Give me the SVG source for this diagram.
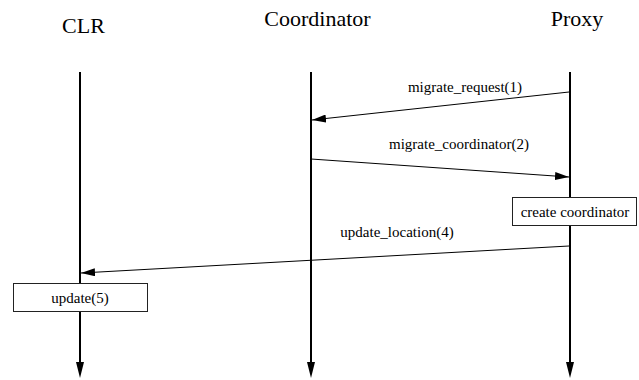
<svg xmlns="http://www.w3.org/2000/svg" width="639" height="380" viewBox="0 0 639 380">
  <style>
    .title { font-family: "Liberation Serif", Times, "DejaVu Serif", serif; font-size: 22px; fill: #000; text-anchor: middle; }
    .label { font-family: "Liberation Serif", Times, "DejaVu Serif", serif; font-size: 15px; fill: #000; text-anchor: middle; }
    .life { stroke: #000; stroke-width: 2; fill: none; }
    .msg { stroke: #000; stroke-width: 1; fill: none; marker-end: url(#head); }
    .box { fill: #fff; stroke: #222; stroke-width: 1; }
    .tip { fill: #000; }
  </style>
  <defs>
    <marker id="head" markerUnits="userSpaceOnUse" markerWidth="14" markerHeight="8" refX="14" refY="4" orient="auto">
      <path d="M0,0 L14,4 L0,8 z" fill="#000"/>
    </marker>
  </defs>

  <!-- lifelines -->
  <g id="clr">
    <text class="title" x="83.5" y="33">CLR</text>
    <line class="life" x1="80" y1="72" x2="80" y2="364"/>
    <polygon class="tip" points="76,362 84,362 80,378"/>
  </g>
  <g id="coordinator">
    <text class="title" x="317.5" y="26">Coordinator</text>
    <line class="life" x1="311" y1="72" x2="311" y2="364"/>
    <polygon class="tip" points="307,362 315,362 311,378"/>
  </g>
  <g id="proxy">
    <text class="title" x="577" y="26">Proxy</text>
    <line class="life" x1="570" y1="72" x2="570" y2="364"/>
    <polygon class="tip" points="566,362 574,362 570,378"/>
  </g>

  <!-- messages -->
  <g id="connectors">
    <line class="msg" x1="569" y1="92" x2="312" y2="120"/>
    <text class="label" x="465" y="92">migrate_request(1)</text>
    <line class="msg" x1="311" y1="159" x2="569" y2="177"/>
    <text class="label" x="459" y="149">migrate_coordinator(2)</text>
    <line class="msg" x1="569" y1="246" x2="81" y2="273"/>
    <text class="label" x="397" y="237">update_location(4)</text>
  </g>

  <!-- activity boxes -->
  <g id="create-coordinator">
    <rect class="box" x="512.5" y="197.5" width="124" height="28"/>
    <text class="label" x="575" y="217">create coordinator</text>
  </g>
  <g id="update">
    <rect class="box" x="13.5" y="283.5" width="134" height="28"/>
    <text class="label" x="80" y="303">update(5)</text>
  </g>
</svg>
